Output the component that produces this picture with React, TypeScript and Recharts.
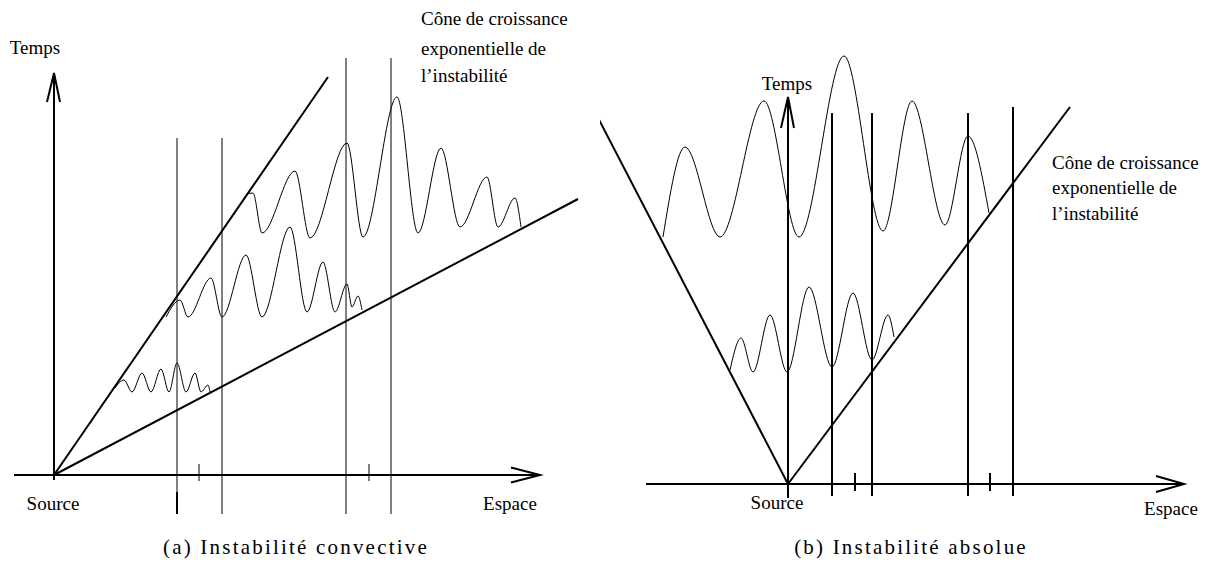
import { LineChart, Line, XAxis, YAxis, ReferenceDot } from "recharts";

type Pt = [number, number];

// ---- panel (a): convective instability (x = space from source, y = time) ----
const axisXA: Pt[] = [[-40, 0], [486, 0]];
const arrowXA: Pt[] = [[457, 7.5], [486, 0], [457, -7.5]];
const axisYA: Pt[] = [[0, -5], [0, 402]];
const arrowYA: Pt[] = [[-7, 373], [0, 402], [6, 373]];
const coneUpA: Pt[] = [[0, 0], [274, 398]];
const coneLowA: Pt[] = [[0, 0], [524, 276]];
const probesA = [
  { x: 123, top: 337 },
  { x: 168, top: 337 },
  { x: 292, top: 417 },
  { x: 337, top: 417 },
];
const probeBottomA = -39;
const markA: Pt[] = [[123, -17], [123, -39]];
const ticksA = [145, 315];
const packetSmallA: Pt[] = [
  [61, 87], [70, 95], [78, 83], [88, 102], [97, 83], [107, 106], [115, 83],
  [123, 112], [132, 83], [141, 102], [147, 83], [154, 90], [156, 83],
];
const packetMidA: Pt[] = [
  [112, 158], [126, 175], [134, 158], [157, 197], [168, 158], [192, 220],
  [208, 158], [236, 248], [253, 163], [269, 213], [281, 163], [293, 191],
  [298, 168], [304, 179], [308, 165],
];
const packetTopA: Pt[] = [
  [193, 281], [199, 282], [208, 242], [241, 304], [256, 237], [293, 332],
  [309, 238], [343, 378], [364, 242], [387, 327], [406, 248], [433, 298],
  [444, 248], [461, 277], [467, 248],
];

// ---- panel (b): absolute instability ----
const axisXB: Pt[] = [[-142, 0], [396, 0]];
const arrowXB: Pt[] = [[368, 8], [396, 0], [368, -8]];
const axisYB: Pt[] = [[0, -14], [0, 387]];
const arrowYB: Pt[] = [[-7, 356], [0, 387], [6, 356]];
const coneLeftB: Pt[] = [[0, 0], [-193, 372]];
const coneRightB: Pt[] = [[0, 0], [282, 377]];
const probesB = [
  { x: 44, top: 371 },
  { x: 84, top: 371 },
  { x: 180, top: 371 },
  { x: 225, top: 377 },
];
const probeBottomB = -12;
const ticksB = [67, 202];
const packetTopB: Pt[] = [
  [-125, 247], [-103, 337], [-68, 247], [-24, 383], [11, 247], [56, 428],
  [95, 253], [124, 383], [157, 259], [180, 348], [201, 271],
];
const packetLowB: Pt[] = [
  [-58, 114], [-47, 146], [-35, 112], [-18, 169], [-1, 112], [21, 197],
  [44, 117], [65, 191], [84, 124], [100, 169], [106, 147],
];

const coneText = ["Cône de croissance", "exponentielle de", "l’instabilité"];

const labelsA = [
  { text: "Temps", x: -19, y: 428, anchor: "middle" },
  { text: coneText[0], x: 367, y: 457, anchor: "start" },
  { text: coneText[1], x: 367, y: 427, anchor: "start" },
  { text: coneText[2], x: 367, y: 400, anchor: "start" },
  { text: "Source", x: -1, y: -28, anchor: "middle" },
  { text: "Espace", x: 456, y: -28, anchor: "middle" },
];
const labelsB = [
  { text: "Temps", x: -1, y: 401, anchor: "middle" },
  { text: coneText[0], x: 264, y: 322, anchor: "start" },
  { text: coneText[1], x: 264, y: 297, anchor: "start" },
  { text: coneText[2], x: 264, y: 271, anchor: "start" },
  { text: "Source", x: -11, y: -18, anchor: "middle" },
  { text: "Espace", x: 383, y: -24, anchor: "middle" },
];

const pts = (a: Pt[]) => a.map(([x, y]) => ({ x, y }));

const SERIF = '"Liberation Serif", "DejaVu Serif", serif';

type Label = { text: string; x: number; y: number; anchor: string };

interface PanelProps {
  width: number;
  xDomain: [number, number];
  yDomain: [number, number];
  thick: Pt[][];
  thin: Pt[][];
  waves: Pt[][];
  labels: Label[];
  caption: { text: string; x: number; y: number };
}

function Panel({ width, xDomain, yDomain, thick, thin, waves, labels, caption }: PanelProps) {
  const line = (d: Pt[], w: number, key: string, type: "linear" | "monotone" = "linear") => (
    <Line
      key={key}
      data={pts(d)}
      dataKey="y"
      type={type}
      stroke="#000"
      strokeWidth={w}
      dot={false}
      activeDot={false}
      isAnimationActive={false}
    />
  );
  return (
    <LineChart width={width} height={562} margin={{ top: 0, right: 0, bottom: 0, left: 0 }}>
      <XAxis type="number" dataKey="x" domain={xDomain} hide allowDataOverflow />
      <YAxis type="number" domain={yDomain} hide width={0} allowDataOverflow />
      {thin.map((d, i) => line(d, 1, `thin${i}`))}
      {waves.map((d, i) => line(d, 1, `wave${i}`, "monotone"))}
      {thick.map((d, i) => line(d, 2, `thick${i}`))}
      {labels.map((l, i) => (
        <ReferenceDot
          key={`lab${i}`}
          x={l.x}
          y={l.y}
          r={0}
          shape={(p: any) => (
            <text
              x={p.cx}
              y={p.cy}
              textAnchor={l.anchor}
              dominantBaseline="central"
              style={{ fontFamily: SERIF, fontSize: 19 }}
              fill="#000"
            >
              {l.text}
            </text>
          )}
        />
      ))}
      <ReferenceDot
        x={caption.x}
        y={caption.y}
        r={0}
        shape={(p: any) => (
          <text
            x={p.cx}
            y={p.cy}
            textAnchor="middle"
            dominantBaseline="central"
            style={{ fontFamily: SERIF, fontSize: 21, letterSpacing: 2.2 }}
            fill="#000"
          >
            {caption.text}
          </text>
        )}
      />
    </LineChart>
  );
}

export default function App() {
  const probeLinesA = probesA.map((p) => [[p.x, probeBottomA], [p.x, p.top]] as Pt[]);
  const tickLinesA = ticksA.map((t) => [[t, 11], [t, -6]] as Pt[]);
  const probeLinesB = probesB.map((p) => [[p.x, probeBottomB], [p.x, p.top]] as Pt[]);
  const tickLinesB = ticksB.map((t) => [[t, 11], [t, -7]] as Pt[]);

  return (
    <div style={{ position: "absolute", left: 0, top: 0, width: 1212, height: 562, background: "#fff" }}>
      <div style={{ position: "absolute", left: 0, top: 0 }}>
        <Panel
          width={600}
          xDomain={[-54, 546]}
          yDomain={[-87, 475]}
          thick={[axisXA, arrowXA, axisYA, arrowYA, coneUpA, coneLowA, markA]}
          thin={[...probeLinesA, ...tickLinesA]}
          waves={[packetSmallA, packetMidA, packetTopA]}
          labels={labelsA}
          caption={{ text: "(a) Instabilité convective", x: 242, y: -72 }}
        />
      </div>
      <div style={{ position: "absolute", left: 600, top: 0 }}>
        <Panel
          width={612}
          xDomain={[-188, 424]}
          yDomain={[-78, 484]}
          thick={[axisXB, arrowXB, axisYB, arrowYB, coneLeftB, coneRightB, ...probeLinesB, ...tickLinesB]}
          thin={[]}
          waves={[packetTopB, packetLowB]}
          labels={labelsB}
          caption={{ text: "(b) Instabilité absolue", x: 123, y: -63 }}
        />
      </div>
    </div>
  );
}
